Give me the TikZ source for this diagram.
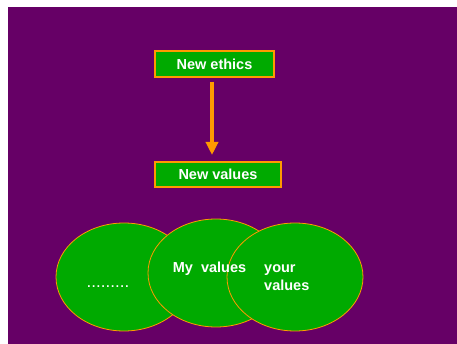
\documentclass[tikz,border=0pt]{standalone}
\usepackage{fontspec}
\setmainfont{Liberation Sans}
\usetikzlibrary{shapes.geometric,arrows.meta}
\definecolor{slidepurple}{HTML}{660066}
\definecolor{boxgreen}{HTML}{00AA00}
\definecolor{lineorange}{HTML}{FF9900}
\tikzset{
    title-box/.style = {draw=lineorange, fill=boxgreen, line width=1.5pt, rectangle, inner sep=0pt, text=white, font=\fontsize{14.5}{17}\selectfont\bfseries},
    value-oval/.style = {draw=lineorange, fill=boxgreen, line width=0.8pt, ellipse, minimum width=136pt, minimum height=108pt, inner sep=0pt},
    oval-text/.style = {text=white, font=\fontsize{14.5}{18}\selectfont\bfseries, inner sep=0pt},
    down-arrow/.style = {draw=lineorange, line width=3.7pt, -{Triangle[width=12pt,length=13pt]}},
}

\begin{document}
\begin{tikzpicture}[x=1pt,y=-1pt]
\useasboundingbox (0,0) rectangle (457,344);
\fill[white] (0,0) rectangle (457,344);
\fill[slidepurple] (8,7) rectangle (457,344);
% header boxes
\node [title-box, minimum width=119pt, minimum height=26pt] (ethics) at (214.5,64) {New ethics};
\node [title-box, minimum width=126pt, minimum height=25pt] (values) at (218,174.5) {New values};
\draw [down-arrow] (ethics.south -| 212,0) ++(0,4) coordinate (arrtop) -- (arrtop |- 0,155) coordinate (arrtip);
% overlapping ovals
\node [value-oval] (other) at (124,277) {};
\node [value-oval] (mine) at (216,273) {};
\node [value-oval] (yours) at (295,277) {};
\node [oval-text, font=\fontsize{17}{18}\selectfont] (dots) at (108,287) {.........};
\node [oval-text] (mytext) at (209.5,269) {My\ \ values};
\node [oval-text, align=left, anchor=west] (yourtext) at (264,278) {your\\values};
\end{tikzpicture}
\end{document}
